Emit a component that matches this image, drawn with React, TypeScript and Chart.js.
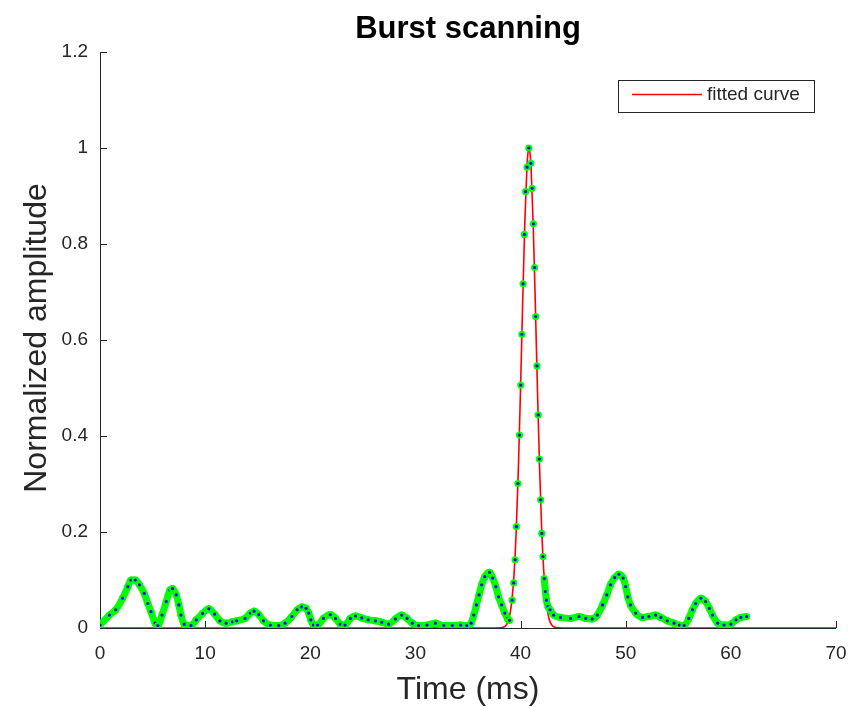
import React, { useEffect, useRef } from "react";
import { Chart, registerables } from "chart.js";

Chart.register(...registerables);

const TITLE = "Burst scanning";
const X_LABEL = "Time (ms)";
const Y_LABEL = "Normalized amplitude";
const LEGEND_LABEL = "fitted curve";

const X_TICKS = [0, 10, 20, 30, 40, 50, 60, 70];
const Y_TICKS = [0, 0.2, 0.4, 0.6, 0.8, 1, 1.2];

// measured (green) samples
const measuredTime = [
  0.0, 0.9, 1.5, 2.15, 2.65, 2.95, 3.35, 3.75, 4.2, 4.55, 4.85, 5.25, 5.5, 5.9, 6.3, 6.65, 6.9, 7.25, 7.5, 7.7,
  8.0, 8.65, 9.15, 9.75, 10.35, 10.9, 11.4, 12.0, 12.6, 13.0, 13.8, 14.3, 14.65, 15.1, 15.55, 16.2, 17.0, 17.6,
  18.25, 18.75, 19.2, 19.6, 19.85, 20.05, 20.3, 20.7, 21.25, 21.9, 22.4, 22.85, 23.3, 23.8, 24.3, 24.9, 25.5,
  26.2, 26.8, 27.45, 28.1, 28.7, 29.2, 29.7, 30.3, 31.1, 31.9, 32.7, 33.5, 34.3, 34.9, 35.3, 35.55, 35.8, 36.05,
  36.3, 36.6, 37.05, 37.35, 37.65, 37.9, 38.2, 38.5, 38.75, 38.95, 39.2, 39.35, 39.48, 39.6, 39.75, 39.9, 40.02,
  40.13, 40.24, 40.36, 40.48, 40.62, 40.79, 40.98, 41.1, 41.22, 41.33, 41.44, 41.56, 41.68, 41.79, 41.91, 42.02,
  42.13, 42.25, 42.36, 42.46, 42.6, 42.8, 43.15, 43.8, 44.75, 45.55, 46.2, 46.8, 47.3, 47.8, 48.2, 48.55, 48.95,
  49.35, 49.75, 50.0, 50.2, 50.45, 50.95, 51.6, 52.2, 52.85, 53.35, 53.95, 54.6, 55.1, 55.55, 56.0, 56.35, 56.65,
  57.15, 57.6, 57.95, 58.25, 58.75, 59.35, 60.0, 60.5, 60.95, 61.5,
];
const measuredAmplitude = [
  0.006, 0.027, 0.038, 0.062, 0.086, 0.1, 0.1, 0.09, 0.072, 0.051, 0.034, 0.01, 0.005, 0.027, 0.055, 0.079, 0.082,
  0.069, 0.048, 0.027, 0.008, 0.005, 0.017, 0.03, 0.04, 0.029, 0.015, 0.01, 0.013, 0.015, 0.02, 0.031, 0.035,
  0.028, 0.015, 0.006, 0.005, 0.01, 0.024, 0.038, 0.044, 0.041, 0.031, 0.017, 0.006, 0.006, 0.02, 0.028, 0.02,
  0.008, 0.006, 0.02, 0.025, 0.021, 0.017, 0.015, 0.012, 0.008, 0.019, 0.027, 0.02, 0.01, 0.005, 0.006, 0.01,
  0.005, 0.005, 0.006, 0.005, 0.01, 0.027, 0.048, 0.069, 0.09, 0.107, 0.116, 0.104, 0.086, 0.065, 0.048, 0.031,
  0.02, 0.016, 0.058, 0.094, 0.142, 0.211, 0.301, 0.402, 0.506, 0.612, 0.717, 0.82, 0.909, 0.96, 1.0, 0.968,
  0.916, 0.842, 0.751, 0.649, 0.546, 0.444, 0.352, 0.267, 0.197, 0.149, 0.103, 0.076, 0.058, 0.045, 0.038, 0.027,
  0.022, 0.02, 0.024, 0.02, 0.019, 0.027, 0.048, 0.069, 0.09, 0.105, 0.112, 0.104, 0.086, 0.065, 0.048, 0.031,
  0.022, 0.024, 0.027, 0.022, 0.015, 0.01, 0.006, 0.005, 0.02, 0.038, 0.051, 0.062, 0.055, 0.041, 0.027, 0.01,
  0.006, 0.008, 0.017, 0.022, 0.024,
];

// fitted (red) curve
const fitTime = [
  0, 37.6, 38.0, 38.2, 38.4, 38.6, 38.8, 39.0, 39.2, 39.4, 39.6, 39.8, 40.0, 40.2, 40.4, 40.6, 40.7, 40.8, 40.9,
  41.0, 41.2, 41.4, 41.6, 41.8, 42.0, 42.2, 42.4, 42.6, 42.8, 43.0, 43.2, 43.6, 44.0, 70,
];
const fitAmplitude = [
  0, 0, 0.0002, 0.0007, 0.002, 0.0053, 0.0133, 0.0301, 0.0628, 0.12, 0.211, 0.339, 0.501, 0.678, 0.841, 0.958,
  0.989, 1.0, 0.989, 0.958, 0.841, 0.678, 0.501, 0.339, 0.211, 0.12, 0.0628, 0.0301, 0.0133, 0.0053, 0.002,
  0.0002, 0, 0,
];

const FONT = "'Liberation Sans', Arial, Helvetica, sans-serif";
const AXIS_COLOR = "#262626";

const decorPlugin = {
  id: "decor",
  beforeDatasetsDraw(chart: any) {
    const { ctx, chartArea: a, scales } = chart;
    const x = scales.x;
    const y = scales.y;
    ctx.save();
    ctx.strokeStyle = AXIS_COLOR;
    ctx.lineWidth = 1;
    ctx.beginPath();
    ctx.moveTo(a.left + 0.5, a.top);
    ctx.lineTo(a.left + 0.5, a.bottom + 0.5);
    ctx.lineTo(a.right, a.bottom + 0.5);
    for (const v of X_TICKS) {
      const px = Math.round(x.getPixelForValue(v)) + 0.5;
      ctx.moveTo(px, a.bottom);
      ctx.lineTo(px, a.bottom - 7);
    }
    for (const v of Y_TICKS) {
      const py = Math.round(y.getPixelForValue(v)) + 0.5;
      ctx.moveTo(a.left, py);
      ctx.lineTo(a.left + 7, py);
    }
    ctx.stroke();
    ctx.restore();
  },
  afterDraw(chart: any) {
    const { ctx, chartArea: a } = chart;
    const cx = (a.left + a.right) / 2;
    ctx.save();
    // title
    ctx.fillStyle = "#000";
    ctx.font = `bold 31px ${FONT}`;
    ctx.textAlign = "center";
    ctx.textBaseline = "middle";
    ctx.fillText(TITLE, cx, 29);
    // x label
    ctx.fillStyle = AXIS_COLOR;
    ctx.font = `32px ${FONT}`;
    ctx.fillText(X_LABEL, cx, 690);
    // y label
    ctx.save();
    ctx.translate(37, (a.top + a.bottom) / 2 - 2);
    ctx.rotate(-Math.PI / 2);
    ctx.fillText(Y_LABEL, 0, 0);
    ctx.restore();
    // legend
    const lx = a.right - 218;
    const ly = a.top + 28;
    const lw = 196;
    const lh = 32;
    ctx.fillStyle = "#fff";
    ctx.fillRect(lx, ly, lw, lh);
    ctx.strokeStyle = AXIS_COLOR;
    ctx.lineWidth = 1;
    ctx.strokeRect(lx + 0.5, ly + 0.5, lw, lh);
    ctx.strokeStyle = "#ff0000";
    ctx.lineWidth = 1.5;
    ctx.beginPath();
    ctx.moveTo(lx + 14, ly + 14.5);
    ctx.lineTo(lx + 84, ly + 14.5);
    ctx.stroke();
    ctx.fillStyle = AXIS_COLOR;
    ctx.font = `19px ${FONT}`;
    ctx.textAlign = "left";
    ctx.textBaseline = "middle";
    ctx.fillText(LEGEND_LABEL, lx + 89, ly + 15);
    ctx.restore();
  },
};

export default function App() {
  const canvasRef = useRef<HTMLCanvasElement | null>(null);

  useEffect(() => {
    document.body.style.margin = "0";
    const canvas = canvasRef.current;
    if (!canvas) return;
    const measured = measuredTime.map((t, i) => ({ x: t, y: measuredAmplitude[i] }));
    const fitted = fitTime.map((t, i) => ({ x: t, y: fitAmplitude[i] }));
    const chart = new Chart(canvas, {
      type: "line",
      data: {
        datasets: [
          {
            label: "measured",
            data: measured,
            order: 1,
            borderColor: "#00ff00",
            borderWidth: 7,
            cubicInterpolationMode: "monotone",
            pointRadius: 2.6,
            pointBorderWidth: 2,
            pointBackgroundColor: "#0000ff",
            pointBorderColor: "#00ff00",
            segment: {
              borderColor: (c: any) =>
                Math.abs(c.p1.parsed.y - c.p0.parsed.y) > 0.035 ||
                Math.max(c.p1.parsed.y, c.p0.parsed.y) > 0.15
                  ? "rgba(0,0,0,0)"
                  : undefined,
            },
          },
          {
            label: LEGEND_LABEL,
            data: fitted,
            order: 2,
            borderColor: "#ff0000",
            borderWidth: 1.6,
            cubicInterpolationMode: "monotone",
            pointRadius: 0,
          },
        ],
      },
      options: {
        responsive: false,
        animation: false,
        layout: { padding: { top: 52, right: 19, left: 0, bottom: 0 } },
        plugins: {
          legend: { display: false },
          title: { display: false },
          tooltip: { enabled: false },
        },
        scales: {
          x: {
            type: "linear",
            min: 0,
            max: 70,
            grid: { display: false, drawTicks: false, tickLength: 0 },
            border: { display: false },
            afterFit: (s: any) => {
              s.height = 80;
              s.paddingLeft = 0;
              s.paddingRight = 0;
            },
            ticks: {
              stepSize: 10,
              padding: 14,
              color: AXIS_COLOR,
              font: { family: FONT, size: 19 },
              maxRotation: 0,
            },
          },
          y: {
            type: "linear",
            min: 0,
            max: 1.2,
            grid: { display: false, drawTicks: false, tickLength: 0 },
            border: { display: false },
            afterFit: (s: any) => {
              s.width = 100;
              s.paddingTop = 0;
              s.paddingBottom = 0;
            },
            ticks: {
              stepSize: 0.2,
              padding: 12,
              color: AXIS_COLOR,
              font: { family: FONT, size: 19 },
              callback: (v: any) => String(Number(Number(v).toFixed(1))),
            },
          },
        },
      },
      plugins: [decorPlugin],
    });
    return () => chart.destroy();
  }, []);

  return (
    <div style={{ width: 855, height: 708, background: "#fff" }}>
      <canvas ref={canvasRef} width={855} height={708} style={{ display: "block" }} />
    </div>
  );
}
